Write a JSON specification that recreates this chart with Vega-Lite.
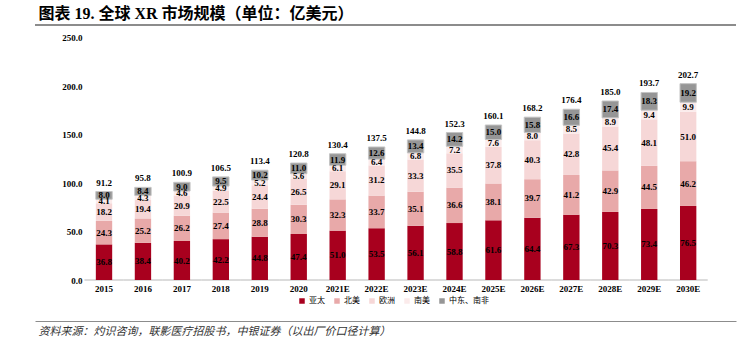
{
  "$schema": "https://vega.github.io/schema/vega-lite/v6.json",
  "width": 701,
  "height": 255,
  "autosize": {"type": "none"},
  "padding": {"left": 35, "top": 25, "right": 8, "bottom": 75},
  "background": "white",
  "config": {"view": {"stroke": null}, "font": "Liberation Serif"},
  "resolve": {"axis": {"x": "independent"}},
  "datasets": {
    "seg": [
      {"year":"2015","region":"亚太","ord":1,"value":36.8},{"year":"2015","region":"北美","ord":2,"value":24.3},{"year":"2015","region":"欧洲","ord":3,"value":18.2},{"year":"2015","region":"南美","ord":4,"value":4.1},{"year":"2015","region":"中东、南非","ord":5,"value":8.0},
      {"year":"2016","region":"亚太","ord":1,"value":38.4},{"year":"2016","region":"北美","ord":2,"value":25.2},{"year":"2016","region":"欧洲","ord":3,"value":19.4},{"year":"2016","region":"南美","ord":4,"value":4.3},{"year":"2016","region":"中东、南非","ord":5,"value":8.4},
      {"year":"2017","region":"亚太","ord":1,"value":40.2},{"year":"2017","region":"北美","ord":2,"value":26.2},{"year":"2017","region":"欧洲","ord":3,"value":20.9},{"year":"2017","region":"南美","ord":4,"value":4.6},{"year":"2017","region":"中东、南非","ord":5,"value":9.0},
      {"year":"2018","region":"亚太","ord":1,"value":42.2},{"year":"2018","region":"北美","ord":2,"value":27.4},{"year":"2018","region":"欧洲","ord":3,"value":22.5},{"year":"2018","region":"南美","ord":4,"value":4.9},{"year":"2018","region":"中东、南非","ord":5,"value":9.5},
      {"year":"2019","region":"亚太","ord":1,"value":44.8},{"year":"2019","region":"北美","ord":2,"value":28.8},{"year":"2019","region":"欧洲","ord":3,"value":24.4},{"year":"2019","region":"南美","ord":4,"value":5.2},{"year":"2019","region":"中东、南非","ord":5,"value":10.2},
      {"year":"2020","region":"亚太","ord":1,"value":47.4},{"year":"2020","region":"北美","ord":2,"value":30.3},{"year":"2020","region":"欧洲","ord":3,"value":26.5},{"year":"2020","region":"南美","ord":4,"value":5.6},{"year":"2020","region":"中东、南非","ord":5,"value":11.0},
      {"year":"2021E","region":"亚太","ord":1,"value":51.0},{"year":"2021E","region":"北美","ord":2,"value":32.3},{"year":"2021E","region":"欧洲","ord":3,"value":29.1},{"year":"2021E","region":"南美","ord":4,"value":6.1},{"year":"2021E","region":"中东、南非","ord":5,"value":11.9},
      {"year":"2022E","region":"亚太","ord":1,"value":53.5},{"year":"2022E","region":"北美","ord":2,"value":33.7},{"year":"2022E","region":"欧洲","ord":3,"value":31.2},{"year":"2022E","region":"南美","ord":4,"value":6.4},{"year":"2022E","region":"中东、南非","ord":5,"value":12.6},
      {"year":"2023E","region":"亚太","ord":1,"value":56.1},{"year":"2023E","region":"北美","ord":2,"value":35.1},{"year":"2023E","region":"欧洲","ord":3,"value":33.3},{"year":"2023E","region":"南美","ord":4,"value":6.8},{"year":"2023E","region":"中东、南非","ord":5,"value":13.4},
      {"year":"2024E","region":"亚太","ord":1,"value":58.8},{"year":"2024E","region":"北美","ord":2,"value":36.6},{"year":"2024E","region":"欧洲","ord":3,"value":35.5},{"year":"2024E","region":"南美","ord":4,"value":7.2},{"year":"2024E","region":"中东、南非","ord":5,"value":14.2},
      {"year":"2025E","region":"亚太","ord":1,"value":61.6},{"year":"2025E","region":"北美","ord":2,"value":38.1},{"year":"2025E","region":"欧洲","ord":3,"value":37.8},{"year":"2025E","region":"南美","ord":4,"value":7.6},{"year":"2025E","region":"中东、南非","ord":5,"value":15.0},
      {"year":"2026E","region":"亚太","ord":1,"value":64.4},{"year":"2026E","region":"北美","ord":2,"value":39.7},{"year":"2026E","region":"欧洲","ord":3,"value":40.3},{"year":"2026E","region":"南美","ord":4,"value":8.0},{"year":"2026E","region":"中东、南非","ord":5,"value":15.8},
      {"year":"2027E","region":"亚太","ord":1,"value":67.3},{"year":"2027E","region":"北美","ord":2,"value":41.2},{"year":"2027E","region":"欧洲","ord":3,"value":42.8},{"year":"2027E","region":"南美","ord":4,"value":8.5},{"year":"2027E","region":"中东、南非","ord":5,"value":16.6},
      {"year":"2028E","region":"亚太","ord":1,"value":70.3},{"year":"2028E","region":"北美","ord":2,"value":42.9},{"year":"2028E","region":"欧洲","ord":3,"value":45.4},{"year":"2028E","region":"南美","ord":4,"value":8.9},{"year":"2028E","region":"中东、南非","ord":5,"value":17.4},
      {"year":"2029E","region":"亚太","ord":1,"value":73.4},{"year":"2029E","region":"北美","ord":2,"value":44.5},{"year":"2029E","region":"欧洲","ord":3,"value":48.1},{"year":"2029E","region":"南美","ord":4,"value":9.4},{"year":"2029E","region":"中东、南非","ord":5,"value":18.3},
      {"year":"2030E","region":"亚太","ord":1,"value":76.5},{"year":"2030E","region":"北美","ord":2,"value":46.2},{"year":"2030E","region":"欧洲","ord":3,"value":51.0},{"year":"2030E","region":"南美","ord":4,"value":9.9},{"year":"2030E","region":"中东、南非","ord":5,"value":19.2}
    ],
    "tot": [
      {"year":"2015","total":91.2},{"year":"2016","total":95.8},{"year":"2017","total":100.9},{"year":"2018","total":106.5},
      {"year":"2019","total":113.4},{"year":"2020","total":120.8},{"year":"2021E","total":130.4},{"year":"2022E","total":137.5},
      {"year":"2023E","total":144.8},{"year":"2024E","total":152.3},{"year":"2025E","total":160.1},{"year":"2026E","total":168.2},
      {"year":"2027E","total":176.4},{"year":"2028E","total":185.0},{"year":"2029E","total":193.7},{"year":"2030E","total":202.7}
    ]
  },
  "layer": [
    {
      "data": {"name": "tot"},
      "mark": {"type": "rect", "fill": null, "stroke": "#d0d0d0", "strokeWidth": 1},
      "encoding": {
        "x": {
          "field": "year", "type": "ordinal", "sort": null,
          "scale": {"type": "band", "paddingInner": 0, "paddingOuter": 1.097, "align": 0.636},
          "axis": null
        },
        "y": {"datum": 0, "type": "quantitative"},
        "y2": {"datum": 0}
      }
    },
    {
      "data": {"values": [{"line": "heading"}]},
      "mark": {"type": "rule", "color": "#1a1a1a", "strokeWidth": 1.2},
      "encoding": {
        "y": {"datum": 263.4, "type": "quantitative"}
      }
    },
    {
      "data": {"name": "seg"},
      "mark": {"type": "bar", "width": {"band": 0.42}, "strokeWidth": 1},
      "encoding": {
        "x": {
          "field": "year", "type": "ordinal", "sort": null,
          "axis": {
            "orient": "bottom", "offset": 41, "domain": true, "domainColor": "#8c8c8c", "domainWidth": 1,
            "ticks": false, "tickSize": 0, "grid": false, "labelAngle": 0, "labelPadding": -30, "labelBaseline": "alphabetic",
            "labelFont": "Liberation Serif", "labelFontSize": 9, "labelFontWeight": "bold", "labelColor": "#000000",
            "title": "资料来源：灼识咨询，联影医疗招股书，中银证券（以出厂价口径计算）",
            "titleX": 3, "titleY": 13, "titleAlign": "left", "titleAnchor": "start", "titleBaseline": "alphabetic",
            "titleFont": "Noto Sans CJK SC", "titleFontSize": 11, "titleFontWeight": "normal", "titleFontStyle": "italic", "titleColor": "#333333"
          }
        },
        "y": {
          "field": "value", "type": "quantitative", "stack": "zero",
          "scale": {"domain": [0, 263.4], "nice": false},
          "axis": {
            "orient": "left", "values": [0, 50, 100, 150, 200, 250], "format": ".1f", "offset": -47,
            "domain": false, "ticks": false, "tickSize": 0, "labelPadding": 0, "grid": false, "title": null,
            "labelFont": "Liberation Serif", "labelFontSize": 9, "labelFontWeight": "bold", "labelColor": "#000000"
          }
        },
        "color": {
          "field": "region", "type": "nominal",
          "scale": {"domain": ["亚太", "北美", "欧洲", "南美", "中东、南非"], "range": ["#A8001E", "#E8A9A9", "#F6D7D7", "#FBEBEB", "#969696"]},
          "legend": {
            "orient": "none", "legendX": 263, "legendY": 272, "direction": "horizontal", "title": null,
            "symbolType": "square", "symbolSize": 30, "symbolStrokeWidth": 0,
            "labelFont": "Noto Sans CJK SC", "labelFontSize": 8, "labelColor": "#000000", "labelOffset": 3, "columnPadding": 8
          }
        },
        "order": {"field": "ord", "type": "quantitative"},
        "stroke": {"condition": {"test": "datum.region === '中东、南非'", "value": "#c4c4c4"}, "value": "transparent"}
      }
    },
    {
      "data": {"name": "seg"},
      "mark": {"type": "text", "font": "Liberation Serif", "fontSize": 9, "fontWeight": "bold", "color": "#000000", "baseline": "middle"},
      "encoding": {
        "x": {"field": "year", "type": "ordinal", "sort": null, "axis": null},
        "y": {"field": "value", "type": "quantitative", "stack": "zero", "bandPosition": 0.5},
        "order": {"field": "ord", "type": "quantitative"},
        "text": {"field": "value", "type": "quantitative", "format": ".1f"}
      }
    },
    {
      "data": {"name": "tot"},
      "mark": {"type": "text", "font": "Liberation Serif", "fontSize": 9, "fontWeight": "bold", "color": "#000000", "baseline": "alphabetic", "dy": -6},
      "encoding": {
        "x": {
          "field": "year", "type": "ordinal", "sort": null,
          "axis": {
            "orient": "top", "offset": 0, "domain": false,
            "labels": false, "ticks": false, "grid": false,
            "title": "图表 19. 全球 XR 市场规模（单位：亿美元）",
            "titleX": 3, "titleY": -7, "titleAlign": "left", "titleAnchor": "start", "titleBaseline": "alphabetic",
            "titleFont": "Liberation Serif, Noto Sans CJK SC", "titleFontSize": 16, "titleFontWeight": "bold", "titleColor": "#000000"
          }
        },
        "y": {"field": "total", "type": "quantitative"},
        "text": {"field": "total", "type": "quantitative", "format": ".1f"}
      }
    }
  ]
}
